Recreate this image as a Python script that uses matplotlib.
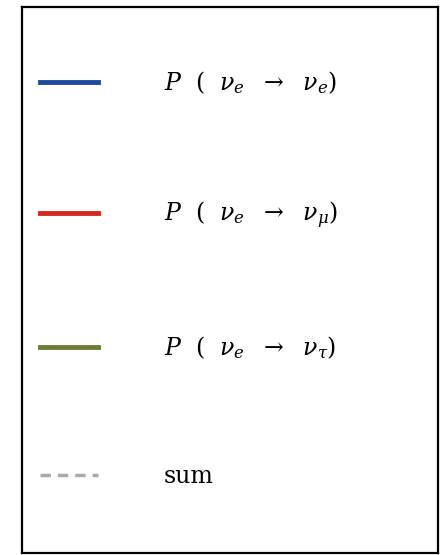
import matplotlib
matplotlib.use("Agg")
import matplotlib.pyplot as plt

plt.rcParams['font.family'] = 'DejaVu Serif'
plt.rcParams['mathtext.fontset'] = 'dejavuserif'

labels = [r'$P\ \ (\ \ \nu_e\ \ \rightarrow\ \ \nu_e)$',
          r'$P\ \ \left(\ \ \nu_e\ \ \rightarrow\ \ \nu_\mu\right)$',
          r'$P\ \ (\ \ \nu_e\ \ \rightarrow\ \ \nu_\tau)$',
          'sum']
colors = ['#1f4a9a', '#d42a1e', '#6b7d35', '#aaaaaa']
styles = ['-', '-', '-', '--']

fig = plt.figure(figsize=(4.44, 5.55), dpi=100)
ax = fig.add_axes([22/444, 2/555, 416/444, 546/555])
ax.set_xticks([])
ax.set_yticks([])
for s in ax.spines.values():
    s.set_color('black')
    s.set_linewidth(1.6)

for lab, c, ls in zip(labels, colors, styles):
    ax.plot([], [], color=c, linestyle=ls, linewidth=3.5 if ls == '-' else 2.5,
            dashes=(3, 2) if ls == '--' else (None, None), label=lab)

ax.legend(loc='upper left', bbox_to_anchor=(0.0, 0.918), frameon=False,
          fontsize=17, handlelength=2.45, handletextpad=2.8, labelspacing=4.38,
          borderpad=0.0, borderaxespad=0.75)

fig.savefig('out.png', dpi=100)
